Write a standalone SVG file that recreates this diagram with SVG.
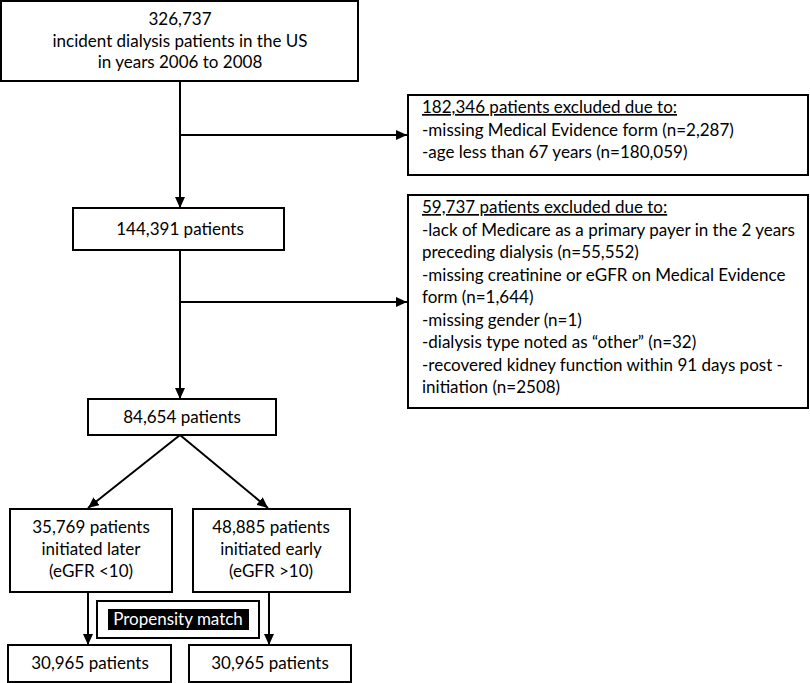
<svg xmlns="http://www.w3.org/2000/svg" width="810" height="683" viewBox="0 0 810 683">
<defs>
<marker id="ah" markerUnits="userSpaceOnUse" markerWidth="12" markerHeight="10" refX="11" refY="5" orient="auto">
<path d="M0,0 L11,5 L0,10 Z" fill="#000"/>
</marker>
<style>
.box{fill:#fff;stroke:#000;stroke-width:2}
.t{font-family:Lato,"Open Sans",sans-serif;font-size:17px;fill:#000}
.c{text-anchor:middle}
.u{text-decoration:underline}
.ln{stroke:#000;stroke-width:2;fill:none}
</style>
</defs>
<rect width="810" height="683" fill="#fff"/>
<g id="connectors">
<line class="ln" x1="180" y1="81" x2="180" y2="208" marker-end="url(#ah)"/>
<line class="ln" x1="180" y1="135" x2="407" y2="135" marker-end="url(#ah)"/>
<line class="ln" x1="180" y1="250" x2="180" y2="399" marker-end="url(#ah)"/>
<line class="ln" x1="180" y1="302" x2="407" y2="302" marker-end="url(#ah)"/>
<line class="ln" x1="180" y1="435" x2="88" y2="508" marker-end="url(#ah)"/>
<line class="ln" x1="180" y1="435" x2="268" y2="508" marker-end="url(#ah)"/>
<line class="ln" x1="88" y1="592" x2="88" y2="645" marker-end="url(#ah)"/>
<line class="ln" x1="269" y1="592" x2="269" y2="645" marker-end="url(#ah)"/>
</g>
<g id="n_start">
<rect class="box" x="1" y="1" width="357" height="80"/>
<text class="t c" x="180" y="25">326,737</text>
<text class="t c" x="180" y="47">incident dialysis patients in the US</text>
<text class="t c" x="180" y="68">in years 2006 to 2008</text>
</g>
<g id="n_excl1">
<rect class="box" x="408" y="95" width="400" height="80"/>
<text class="t u" x="422" y="113">182,346 patients excluded due to:</text>
<text class="t" x="422" y="136">-missing Medical Evidence form (n=2,287)</text>
<text class="t" x="422" y="158">-age less than 67 years (n=180,059)</text>
</g>
<g id="n_144">
<rect class="box" x="73" y="208" width="211" height="42"/>
<text class="t c" x="180" y="235">144,391 patients</text>
</g>
<g id="n_excl2">
<rect class="box" x="408" y="195" width="400" height="213"/>
<text class="t u" x="422" y="213">59,737 patients excluded due to:</text>
<text class="t" x="422" y="236">-lack of Medicare as a primary payer in the 2 years</text>
<text class="t" x="422" y="258">preceding dialysis (n=55,552)</text>
<text class="t" x="422" y="281">-missing creatinine or eGFR on Medical Evidence</text>
<text class="t" x="422" y="303">form (n=1,644)</text>
<text class="t" x="422" y="326">-missing gender (n=1)</text>
<text class="t" x="422" y="348">-dialysis type noted as “other” (n=32)</text>
<text class="t" x="422" y="371">-recovered kidney function within 91 days post -</text>
<text class="t" x="422" y="393">initiation (n=2508)</text>
</g>
<g id="n_84">
<rect class="box" x="88" y="399" width="188" height="36"/>
<text class="t c" x="182" y="423">84,654 patients</text>
</g>
<g id="n_later">
<rect class="box" x="10" y="509" width="162" height="83"/>
<text class="t c" x="91" y="533">35,769 patients</text>
<text class="t c" x="91" y="555">initiated later</text>
<text class="t c" x="91" y="577">(eGFR &lt;10)</text>
</g>
<g id="n_early">
<rect class="box" x="193" y="509" width="157" height="83"/>
<text class="t c" x="271" y="533">48,885 patients</text>
<text class="t c" x="271" y="555">initiated early</text>
<text class="t c" x="271" y="577">(eGFR &gt;10)</text>
</g>
<g id="n_propensity">
<rect class="box" x="97" y="601" width="162" height="37"/>
<rect x="108" y="609" width="141" height="21" fill="#000"/>
<text class="t c" x="178" y="625" fill="#fff" style="fill:#fff">Propensity match</text>
</g>
<g id="n_match_left">
<rect class="box" x="8" y="645" width="163" height="37"/>
<text class="t c" x="90" y="669">30,965 patients</text>
</g>
<g id="n_match_right">
<rect class="box" x="189" y="645" width="162" height="37"/>
<text class="t c" x="270" y="669">30,965 patients</text>
</g>
</svg>
